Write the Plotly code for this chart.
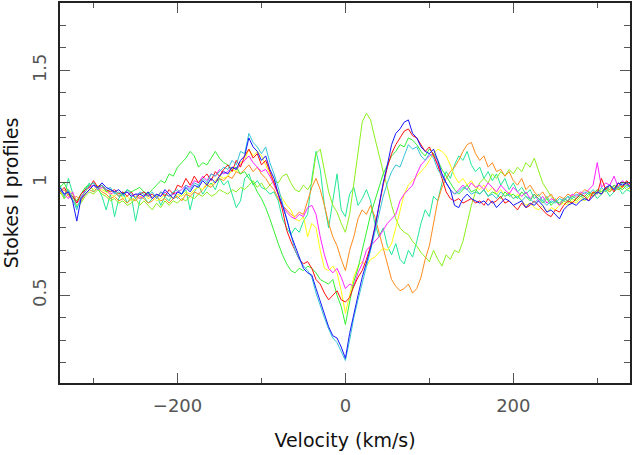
import plotly.graph_objects as go

# velocity grid (km/s), one sample every 5 km/s
velocity = list(range(-340, 345, 5))

blue = [
    0.98, 0.95, 0.96, 0.92, 0.83, 0.93, 0.95, 0.97, 0.99, 0.98, 1.00, 0.98, 0.97, 0.96, 0.97, 0.95, 0.96, 0.94, 0.95, 0.95,
    0.94, 0.96, 0.93, 0.95, 0.94, 0.97, 0.95, 0.93, 0.96, 0.95, 0.98, 0.96, 0.99, 0.98, 1.01, 0.99, 1.02, 1.00, 1.03, 1.05,
    1.04, 1.07, 1.06, 1.10, 1.12, 1.20, 1.16, 1.14, 1.10, 1.12, 1.06, 1.02, 0.95, 0.90, 0.84, 0.77, 0.72, 0.67, 0.62, 0.60,
    0.59, 0.53, 0.47, 0.42, 0.36, 0.32, 0.31, 0.27, 0.22, 0.33, 0.42, 0.50, 0.58, 0.64, 0.71, 0.80, 0.90, 1.00, 1.08, 1.17,
    1.22, 1.24, 1.27, 1.28, 1.22, 1.20, 1.16, 1.14, 1.13, 1.15, 1.10, 1.04, 1.00, 0.97, 0.90, 0.89, 0.93, 0.95, 0.93, 0.92,
    0.91, 0.92, 0.90, 0.92, 0.89, 0.91, 0.93, 0.92, 0.90, 0.91, 0.92, 0.89, 0.91, 0.90, 0.92, 0.90, 0.87, 0.88, 0.86, 0.84,
    0.88, 0.90, 0.91, 0.90, 0.92, 0.93, 0.92, 0.94, 0.96, 0.95, 0.98, 0.99, 0.97, 1.00, 0.99, 1.00, 0.98,
]

cyan = [
    0.97, 0.94, 0.97, 0.93, 0.88, 0.94, 0.96, 0.99, 1.00, 0.97, 0.99, 0.97, 0.98, 0.95, 0.96, 0.94, 0.97, 0.95, 0.93, 0.96,
    0.95, 0.94, 0.96, 0.93, 0.96, 0.95, 0.94, 0.96, 0.97, 0.95, 0.99, 0.97, 1.00, 0.99, 1.02, 1.00, 1.04, 1.03, 1.05, 1.07,
    1.06, 1.10, 1.08, 1.14, 1.13, 1.22, 1.18, 1.16, 1.13, 1.16, 1.09, 1.04, 0.98, 0.91, 0.83, 0.76, 0.70, 0.66, 0.63, 0.61,
    0.58, 0.51, 0.45, 0.40, 0.35, 0.31, 0.29, 0.25, 0.21, 0.30, 0.40, 0.48, 0.55, 0.62, 0.70, 0.78, 0.86, 0.94, 1.00, 1.05,
    1.08, 1.07, 1.12, 1.17, 1.15, 1.16, 1.12, 1.10, 1.13, 1.11, 1.06, 1.03, 1.00, 0.97, 0.95, 0.96, 0.98, 0.97, 0.95, 0.96,
    0.95, 0.97, 0.94, 0.95, 0.93, 0.96, 0.94, 0.95, 0.93, 0.94, 0.92, 0.94, 0.93, 0.91, 0.93, 0.92, 0.90, 0.92, 0.91, 0.93,
    0.92, 0.94, 0.93, 0.95, 0.94, 0.96, 0.95, 0.97, 0.95, 0.98, 0.96, 0.99, 0.97, 0.98, 1.00, 0.98, 0.99,
]

red = [
    0.96, 0.98, 0.95, 0.94, 0.91, 0.95, 0.97, 0.98, 1.01, 0.98, 0.99, 0.97, 0.96, 0.97, 0.95, 0.96, 0.94, 0.96, 0.93, 0.95,
    0.96, 0.94, 0.95, 0.93, 0.96, 0.94, 0.97, 0.95, 0.99, 0.98, 1.02, 0.99, 1.03, 1.00, 1.02, 1.04, 1.01, 1.05, 1.03, 1.06,
    1.08, 1.05, 1.10, 1.07, 1.12, 1.15, 1.11, 1.13, 1.08, 1.10, 1.05, 1.00, 0.95, 0.88, 0.79, 0.74, 0.70, 0.66, 0.64, 0.65,
    0.62, 0.57, 0.55, 0.51, 0.48, 0.50, 0.52, 0.48, 0.47, 0.49, 0.54, 0.58, 0.61, 0.66, 0.72, 0.80, 0.90, 0.99, 1.07, 1.13,
    1.17, 1.20, 1.23, 1.24, 1.21, 1.20, 1.17, 1.14, 1.16, 1.12, 1.08, 1.02, 0.96, 0.93, 0.92, 0.93, 0.91, 0.92, 0.93, 0.91,
    0.92, 0.90, 0.93, 0.91, 0.92, 0.94, 0.91, 0.92, 0.90, 0.88, 0.91, 0.89, 0.90, 0.92, 0.90, 0.88, 0.86, 0.85, 0.88, 0.87,
    0.90, 0.92, 0.91, 0.93, 0.95, 0.94, 0.92, 0.96, 0.95, 1.02, 0.97, 0.99, 0.96, 1.00, 0.98, 1.01, 0.99,
]

green = [
    0.98, 1.00, 0.96, 0.94, 0.92, 0.95, 0.98, 0.99, 1.00, 0.98, 0.99, 0.96, 0.97, 0.96, 0.94, 0.95, 0.97, 0.96, 0.97, 0.98,
    0.96, 0.95, 0.97, 0.99, 1.01, 1.00, 1.04, 1.03, 1.07, 1.09, 1.11, 1.14, 1.12, 1.07, 1.09, 1.08, 1.11, 1.14, 1.11, 1.09,
    1.08, 1.06, 1.07, 1.04, 1.05, 1.02, 1.00, 0.96, 0.93, 0.89, 0.84, 0.78, 0.73, 0.68, 0.64, 0.61, 0.60, 0.62, 0.61, 0.63,
    0.62, 0.60, 0.57, 0.56, 0.55, 0.57, 0.50, 0.45, 0.37, 0.47, 0.56, 0.62, 0.70, 0.78, 0.86, 0.92, 0.98, 1.04, 1.08, 1.12,
    1.14, 1.17, 1.16, 1.20, 1.19, 1.17, 1.14, 1.12, 1.15, 1.13, 1.10, 1.06, 1.03, 1.00, 0.97, 0.95, 0.97, 0.99, 0.96, 0.97,
    0.95, 0.97, 0.94, 0.96, 0.95, 0.93, 0.96, 0.94, 0.95, 0.93, 0.96, 0.94, 0.92, 0.95, 0.93, 0.91, 0.93, 0.90, 0.92, 0.91,
    0.93, 0.92, 0.94, 0.93, 0.95, 0.94, 0.96, 0.95, 0.97, 0.96, 0.98, 0.97, 0.99, 0.98, 0.97, 0.99, 0.98,
]

yellow = [
    0.96, 0.94, 0.97, 0.95, 0.92, 0.93, 0.96, 0.98, 0.97, 0.99, 0.97, 0.96, 0.95, 0.94, 0.96, 0.93, 0.94, 0.92, 0.94, 0.93,
    0.95, 0.93, 0.94, 0.92, 0.93, 0.95, 0.94, 0.93, 0.95, 0.94, 0.96, 0.95, 0.97, 0.98, 0.97, 1.00, 0.99, 1.01, 1.03, 1.02,
    1.03, 1.06, 1.05, 1.09, 1.10, 1.15, 1.12, 1.14, 1.12, 1.08, 1.04, 1.00, 0.96, 0.93, 0.90, 0.88, 0.84, 0.83, 0.85, 0.76,
    0.82, 0.80, 0.70, 0.62, 0.61, 0.63, 0.60, 0.52, 0.42, 0.50, 0.58, 0.63, 0.65, 0.63, 0.66, 0.67, 0.69, 0.71, 0.70, 0.73,
    0.80, 0.88, 0.95, 0.99, 1.01, 1.03, 1.05, 1.07, 1.10, 1.13, 1.15, 1.14, 1.12, 1.08, 1.03, 1.00, 1.02, 0.99, 1.01, 0.98,
    0.97, 0.99, 0.96, 0.98, 0.95, 0.97, 0.94, 0.96, 0.93, 0.95, 0.92, 0.90, 0.91, 0.89, 0.88, 0.90, 0.87, 0.89, 0.88, 0.90,
    0.91, 0.90, 0.92, 0.91, 0.93, 0.92, 0.94, 0.96, 0.95, 0.97, 0.96, 0.98, 0.97, 0.99, 0.98, 1.00, 0.98,
]

magenta = [
    0.97, 0.95, 0.93, 0.96, 0.91, 0.93, 0.97, 0.98, 0.99, 0.97, 0.98, 0.97, 0.95, 0.96, 0.94, 0.95, 0.96, 0.94, 0.95, 0.93,
    0.94, 0.95, 0.93, 0.95, 0.94, 0.96, 0.94, 0.95, 0.96, 0.97, 0.99, 0.98, 1.01, 1.00, 1.03, 1.01, 1.04, 1.03, 1.06, 1.04,
    1.05, 1.07, 1.06, 1.08, 1.10, 1.12, 1.09, 1.07, 1.05, 1.06, 1.03, 0.99, 0.95, 0.90, 0.87, 0.85, 0.84, 0.86, 0.85, 0.89,
    0.90, 0.86, 0.76, 0.68, 0.62, 0.60, 0.62, 0.58, 0.53, 0.55, 0.54, 0.60, 0.64, 0.70, 0.72, 0.74, 0.76, 0.79, 0.82, 0.84,
    0.86, 0.92, 0.95, 0.97, 0.99, 1.04, 1.08, 1.10, 1.12, 1.13, 1.08, 1.04, 1.00, 0.97, 0.95, 0.97, 0.99, 0.97, 1.00, 0.98,
    0.99, 0.97, 1.00, 0.98, 0.96, 0.99, 0.97, 0.95, 0.98, 0.96, 0.94, 0.96, 0.93, 0.95, 0.92, 0.94, 0.91, 0.93, 0.92, 0.90,
    0.93, 0.92, 0.95, 0.94, 0.96, 0.95, 0.97, 0.99, 1.09, 0.98, 1.00, 0.99, 1.03, 0.98, 1.01, 0.99, 1.00,
]

orange = [
    0.95, 0.97, 0.94, 0.93, 0.94, 0.92, 0.95, 0.97, 0.96, 0.98, 0.96, 0.95, 0.93, 0.94, 0.92, 0.93, 0.91, 0.93, 0.92, 0.94,
    0.93, 0.91, 0.92, 0.94, 0.92, 0.93, 0.91, 0.93, 0.94, 0.92, 0.95, 0.94, 0.96, 0.95, 0.97, 0.99, 0.98, 1.00, 1.02, 1.01,
    1.03, 1.02, 1.05, 1.04, 1.06, 1.08, 1.05, 1.07, 1.04, 1.02, 0.99, 0.97, 0.93, 0.90, 0.88, 0.86, 0.85, 0.87, 0.86, 0.92,
    0.98, 1.02, 0.97, 0.90, 0.82, 0.76, 0.72, 0.66, 0.61, 0.70, 0.76, 0.84, 0.88, 0.86, 0.90, 0.85, 0.78, 0.70, 0.63, 0.57,
    0.54, 0.52, 0.53, 0.55, 0.51, 0.53, 0.58, 0.66, 0.72, 0.82, 0.92, 0.98, 1.02, 1.05, 1.07, 1.10, 1.14, 1.17, 1.18, 1.13,
    1.10, 1.12, 1.07, 1.09, 1.05, 1.06, 1.03, 1.05, 1.01, 0.99, 1.02, 0.97, 0.99, 0.96, 0.94, 0.96, 0.93, 0.95, 0.92, 0.94,
    0.93, 0.95, 0.94, 0.96, 0.95, 0.97, 0.96, 0.94, 0.97, 0.95, 0.98, 0.96, 0.99, 0.97, 0.98, 1.00, 0.97,
]

chartreuse = [
    0.96, 0.93, 0.95, 0.92, 0.90, 0.91, 0.94, 0.96, 0.95, 0.97, 0.95, 0.94, 0.92, 0.93, 0.91, 0.92, 0.90, 0.91, 0.93, 0.90,
    0.92, 0.90, 0.88, 0.91, 0.89, 0.92, 0.90, 0.92, 0.91, 0.93, 0.92, 0.94, 0.93, 0.95, 0.94, 0.96, 0.94, 0.95, 0.97, 0.96,
    0.95, 0.97, 0.96, 0.98, 0.97, 0.99, 1.01, 0.98, 1.00, 0.97, 0.99, 1.01, 1.00, 1.03, 1.04, 1.00, 0.97, 0.96, 0.99, 0.97,
    1.00, 1.13, 1.15, 1.06, 0.96, 0.90, 0.87, 0.82, 0.78, 0.86, 1.00, 1.15, 1.27, 1.31, 1.28, 1.20, 1.12, 1.05, 0.98, 0.90,
    0.84, 0.80, 0.78, 0.77, 0.74, 0.72, 0.69, 0.67, 0.65, 0.70, 0.66, 0.63, 0.68, 0.66, 0.70, 0.69, 0.74, 0.82, 0.90, 0.96,
    1.00, 1.02, 1.00, 1.04, 1.02, 1.05, 1.03, 1.06, 1.04, 1.07, 1.05, 1.09, 1.07, 1.11, 1.05, 1.00, 0.97, 0.94, 0.92, 0.90,
    0.92, 0.91, 0.93, 0.92, 0.94, 0.93, 0.95, 0.94, 0.96, 0.95, 0.97, 0.96, 0.98, 0.97, 0.99, 0.97, 0.98,
]

spring = [
    0.99, 0.93, 1.02, 0.95, 0.89, 0.92, 0.97, 1.00, 0.96, 0.98, 0.94, 0.88, 0.95, 0.85, 0.93, 0.96, 0.91, 0.94, 0.83, 0.92,
    0.94, 0.91, 0.93, 0.95, 0.90, 0.94, 0.92, 0.96, 0.93, 0.95, 0.97, 0.88, 0.96, 0.99, 0.95, 0.98, 1.00, 0.97, 1.02, 0.99,
    1.01, 0.95, 0.89, 0.92, 1.02, 1.04, 0.99, 1.01, 0.98, 0.97, 0.95, 0.96, 0.92, 0.84, 0.80, 0.77, 0.80, 0.78, 0.83, 0.86,
    1.02, 1.14, 1.06, 0.90, 0.80, 0.92, 1.04, 0.88, 0.85, 0.95, 0.98, 0.90, 0.93, 0.97, 0.92, 0.82, 0.76, 0.80, 0.72, 0.68,
    0.73, 0.66, 0.64, 0.70, 0.67, 0.74, 0.82, 0.88, 0.85, 0.94, 0.92, 1.00, 1.05, 1.02, 1.08, 1.12, 1.10, 1.14, 1.08, 1.05,
    1.07, 1.02, 1.05, 1.01, 1.04, 0.99, 1.02, 0.97, 1.00, 0.96, 0.98, 0.95, 0.97, 0.93, 0.95, 0.92, 0.94, 0.91, 0.93, 0.90,
    0.92, 0.94, 0.91, 0.93, 0.95, 0.92, 0.94, 0.96, 0.93, 0.95, 0.97, 0.94, 0.96, 0.98, 0.95, 0.97, 0.96,
]

# drawing order: last one ends up on top
profiles = [
    ("spring", spring, "#22e896"),
    ("chartreuse", chartreuse, "#8cf01e"),
    ("orange", orange, "#ff8a1c"),
    ("yellow", yellow, "#ffff10"),
    ("magenta", magenta, "#ff22ff"),
    ("green", green, "#33f033"),
    ("red", red, "#ff1010"),
    ("cyan", cyan, "#35c4d6"),
    ("blue", blue, "#1515ff"),
]

for name, vals, _ in profiles:
    if len(vals) != len(velocity):
        raise ValueError(f"{name}: {len(vals)} points, expected {len(velocity)}")

fig = go.Figure()
for name, vals, col in profiles:
    fig.add_trace(go.Scatter(
        x=velocity, y=vals, mode="lines", name=name,
        line=dict(color=col, width=1), showlegend=False,
    ))

tick_font = dict(family="DejaVu Sans", size=18, color="#555555")
frame = dict(
    showline=True, linecolor="#222222", linewidth=1.5, mirror="allticks",
    ticks="inside", tickcolor="#555555", tickwidth=1, ticklen=10,
    showgrid=False, zeroline=False, tickfont=tick_font,
)

fig.update_xaxes(
    range=[-340, 339], tick0=0, dtick=200,
    minor=dict(ticks="inside", dtick=100, ticklen=5, tickcolor="#555555"),
    ticklabelstandoff=6,
    title=dict(text="Velocity (km/s)", standoff=18,
               font=dict(family="DejaVu Sans", size=19, color="#111111")),
    **frame,
)
fig.update_yaxes(
    range=[0.11, 1.8], tick0=0, dtick=0.5, tickangle=-90,
    minor=dict(ticks="inside", dtick=0.1, ticklen=6, tickcolor="#555555"),
    ticklabelstandoff=5,
    title=dict(text="Stokes I profiles", standoff=9,
               font=dict(family="DejaVu Sans", size=19, color="#111111")),
    **frame,
)

fig.update_layout(
    width=633, height=455,
    margin=dict(l=60, r=2, t=1, b=72),
    plot_bgcolor="white", paper_bgcolor="white",
)

# the page's default body margin would push the figure 8px off
fig.write_html(
    "out.html",
    config={"displayModeBar": False},
    post_script="document.body.style.margin='0';",
)
